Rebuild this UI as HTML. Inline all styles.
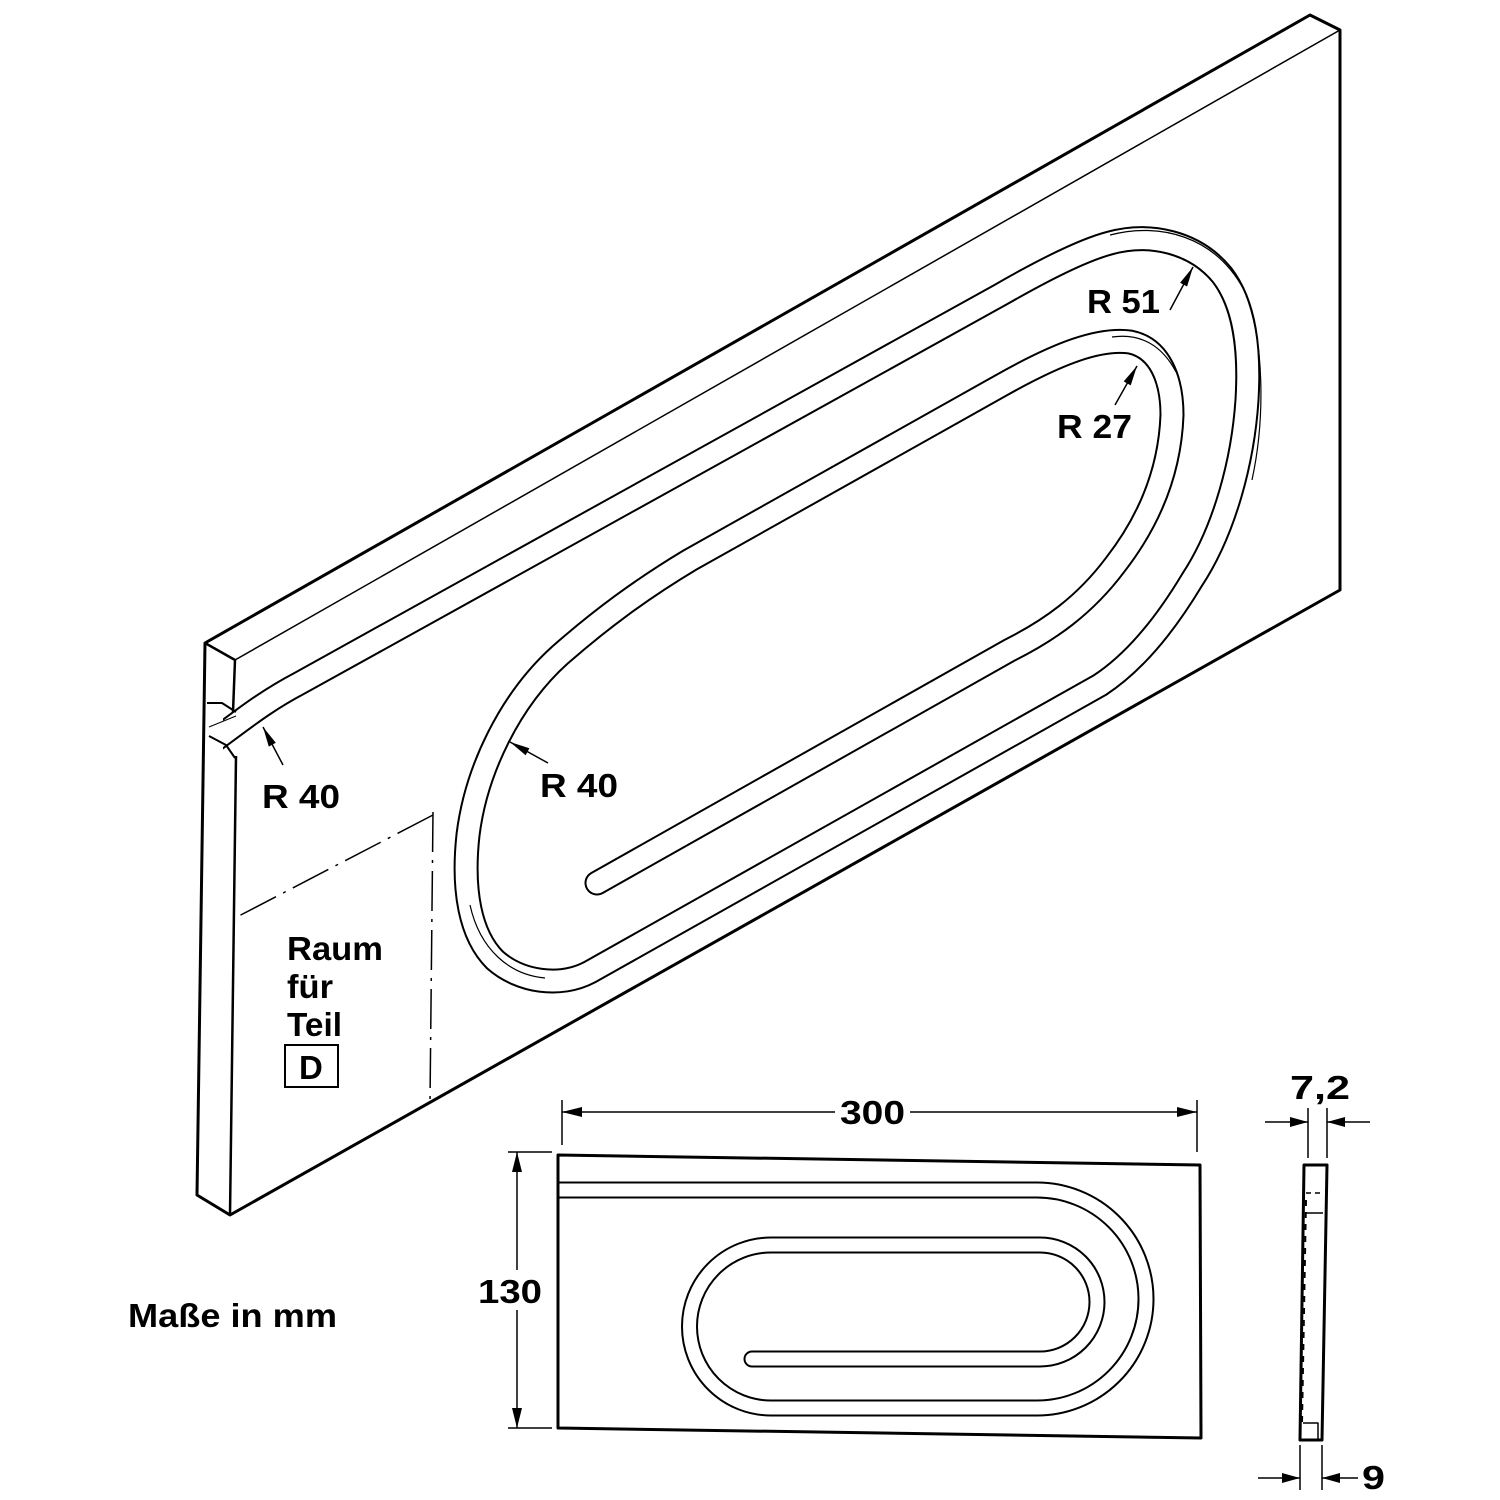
<!DOCTYPE html>
<html><head><meta charset="utf-8"><style>html,body{margin:0;padding:0;background:#fff}svg{display:block}text{font-family:"Liberation Sans",sans-serif;font-weight:bold;fill:#000}</style></head>
<body>
<svg width="1500" height="1500" viewBox="0 0 1500 1500" xmlns="http://www.w3.org/2000/svg">
<rect width="1500" height="1500" fill="#fff"/>
<!-- iso groove -->
<g fill="none" stroke-linejoin="round" stroke-linecap="round">
<path stroke="#000" stroke-width="25" d="M212,742 C240,722 262,703 300,683 L1000,295 C1040,272 1083,250 1110,243 C1150,232 1195,242 1222,275 C1245,305 1250,350 1247,400 C1243,460 1225,530 1192,580 C1165,625 1135,662 1100,685 L590,972 C560,988 520,982 495,960 C470,935 462,890 468,835 C476,770 510,700 560,655 C600,620 640,590 690,560 L1000,386 C1060,352 1100,338 1130,342 C1160,348 1172,380 1172,415 C1170,470 1150,520 1115,565 C1085,605 1050,630 1010,650 L597,883"/>
<path stroke="#fff" stroke-width="21" d="M212,742 C240,722 262,703 300,683 L1000,295 C1040,272 1083,250 1110,243 C1150,232 1195,242 1222,275 C1245,305 1250,350 1247,400 C1243,460 1225,530 1192,580 C1165,625 1135,662 1100,685 L590,972 C560,988 520,982 495,960 C470,935 462,890 468,835 C476,770 510,700 560,655 C600,620 640,590 690,560 L1000,386 C1060,352 1100,338 1130,342 C1160,348 1172,380 1172,415 C1170,470 1150,520 1115,565 C1085,605 1050,630 1010,650 L597,883"/>
</g>
<rect x="180" y="700" width="43" height="65" fill="#fff"/>
<g fill="none" stroke="#000" stroke-linejoin="round">
<!-- board -->
<path d="M205,643 L1310,15 L1340,30 L1340,590 L230,1215 L197,1195 L205,643 Z" stroke-width="3"/>
<path d="M235,660 L1340,30" stroke-width="1.5"/>
<path d="M205,643 L235,660 L233,712 M236,756 L230,1215" stroke-width="2.5"/>
<!-- notch -->
<path d="M207,703 L222,703 L236,712 M209,736 L226,745 L235,758" stroke-width="2"/>
<path d="M209,727 L236,716" stroke-width="1"/>
<!-- dash-dot region -->
<path d="M433,812 L430,1102 M433,815 L235,918" stroke-width="1.5" stroke-dasharray="40,8,3,8"/>
<path d="M1110,235 C1160,222 1215,236 1244,290 C1265,340 1265,420 1252,480" stroke-width="1.2"/>
<path d="M1112,337 C1140,333 1162,345 1176,372" stroke-width="1.2"/>
<path d="M470,905 C480,950 510,975 545,978" stroke-width="1.2"/>
</g>
<g fill="none" stroke-linejoin="round" stroke-linecap="round">
<path stroke="#000" stroke-width="17" d="M545,1190 L1037,1190 A109,109 0 0 1 1037,1408 L771,1408 A81.5,81.5 0 0 1 771,1245 L1040,1245 A57,57 0 0 1 1040,1359 L752,1359"/>
<path stroke="#fff" stroke-width="13" d="M545,1190 L1037,1190 A109,109 0 0 1 1037,1408 L771,1408 A81.5,81.5 0 0 1 771,1245 L1040,1245 A57,57 0 0 1 1040,1359 L752,1359"/>
</g>
<rect x="530" y="1175" width="27" height="32" fill="#fff"/>
<g fill="none" stroke="#000" stroke-linejoin="round">
<path d="M558,1155 L1200,1165 L1201,1438 L558,1428 Z" stroke-width="3"/>
<!-- side view -->
<path d="M1304,1165 L1327,1165 L1322,1440 L1300,1440 Z" stroke-width="3"/>
<path d="M1306,1193 L1324,1193" stroke-width="1.5" stroke-dasharray="5,4"/>
<path d="M1306,1213 L1323,1213 M1303,1423 L1318,1423 L1318,1440" stroke-width="1.5"/>
<path d="M1306,1200 L1302,1423" stroke-width="2" stroke-dasharray="6,6"/>
<!-- dimensions -->
<g stroke-width="1.5">
<path d="M562,1100 L562,1145 M1197,1100 L1197,1152 M562,1112 L835,1112 M910,1112 L1197,1112"/>
<path d="M508,1152 L552,1152 M508,1428 L552,1428 M517,1152 L517,1270 M517,1310 L517,1428"/>
<path d="M1308,1108 L1308,1158 M1327,1108 L1327,1158 M1265,1122 L1308,1122 M1327,1122 L1370,1122"/>
<path d="M1300,1445 L1300,1490 M1322,1445 L1322,1490 M1258,1478 L1300,1478 M1322,1478 L1358,1478"/>
<path d="M1170,310 L1193,267 M1115,405 L1137,366 M548,763 L510,742 M283,765 L263,727"/>
</g>
</g>
<g fill="#000">
<polygon points="562,1112 582,1107 582,1117"/>
<polygon points="1197,1112 1177,1107 1177,1117"/>
<polygon points="517,1152 512,1172 522,1172"/>
<polygon points="517,1428 512,1408 522,1408"/>
<polygon points="1308,1122 1290,1117 1290,1127"/>
<polygon points="1327,1122 1345,1117 1345,1127"/>
<polygon points="1300,1478 1282,1473 1282,1483"/>
<polygon points="1322,1478 1340,1473 1340,1483"/>
<polygon points="1193,267 1187.1,286.5 1180.1,282.7"/>
<polygon points="1137,366 1130.7,385.4 1123.7,381.4"/>
<polygon points="510,742 529.4,748.2 525.6,755.2"/>
<polygon points="263,727 275.8,742.8 268.8,746.6"/>
</g>
<rect x="285" y="1045" width="53" height="42" fill="none" stroke="#000" stroke-width="2"/>
<g font-size="33">
<text x="1087" y="313" textLength="73" lengthAdjust="spacingAndGlyphs">R 51</text>
<text x="1057" y="438" textLength="75" lengthAdjust="spacingAndGlyphs">R 27</text>
<text x="540" y="797" textLength="78" lengthAdjust="spacingAndGlyphs">R 40</text>
<text x="262" y="808" textLength="78" lengthAdjust="spacingAndGlyphs">R 40</text>
<text x="287" y="960" textLength="96" lengthAdjust="spacingAndGlyphs">Raum</text>
<text x="287" y="998" textLength="46" lengthAdjust="spacingAndGlyphs">für</text>
<text x="287" y="1036" textLength="55" lengthAdjust="spacingAndGlyphs">Teil</text>
<text x="299" y="1079">D</text>
<text x="128" y="1327" textLength="209" lengthAdjust="spacingAndGlyphs">Maße in mm</text>
<text x="840" y="1124" textLength="65" lengthAdjust="spacingAndGlyphs">300</text>
<text x="478" y="1303" textLength="64" lengthAdjust="spacingAndGlyphs">130</text>
<text x="1290" y="1099" textLength="60" lengthAdjust="spacingAndGlyphs">7,2</text>
<text x="1362" y="1489" textLength="23" lengthAdjust="spacingAndGlyphs">9</text>
</g>
</svg>
</body></html>
